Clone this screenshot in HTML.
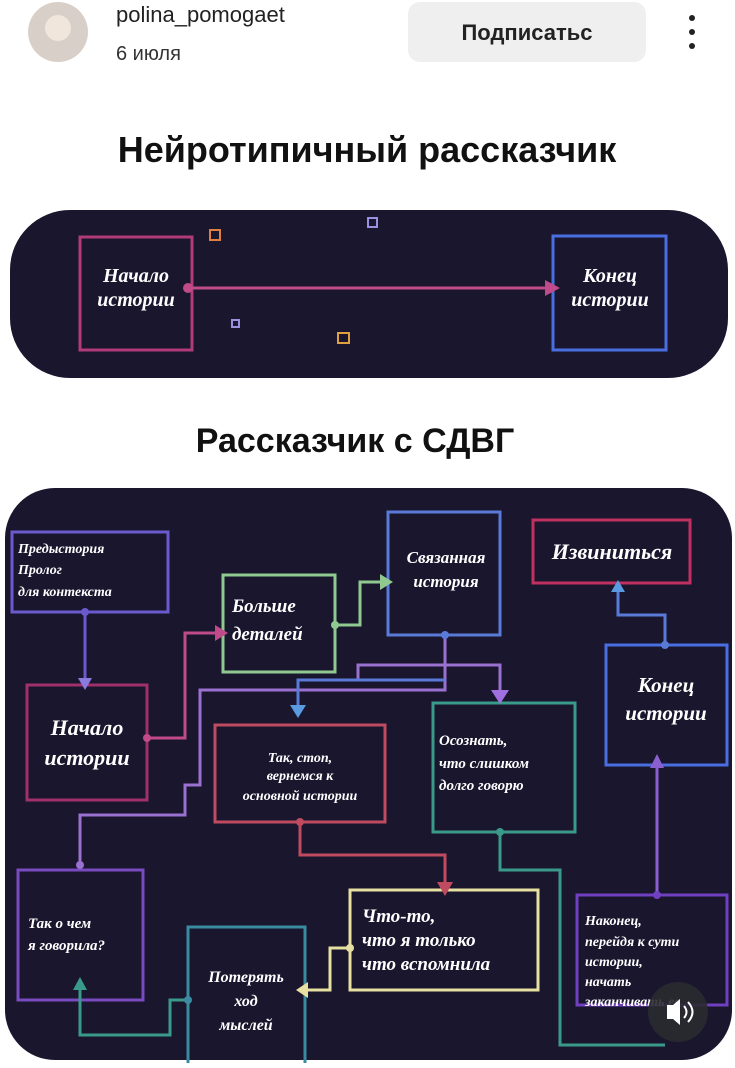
<!DOCTYPE html>
<html><head><meta charset="utf-8"><style>
body{margin:0;width:735px;height:1063px;background:#fff;overflow:hidden;font-family:"Liberation Sans","Noto Sans CJK SC",sans-serif}
</style></head><body>
<svg width="735" height="1063" viewBox="0 0 735 1063" xmlns="http://www.w3.org/2000/svg" font-family="Liberation Sans, Noto Sans CJK SC, sans-serif">
<circle cx="58" cy="32" r="30" fill="#d8d0c8"/>
<circle cx="58" cy="28" r="13" fill="#f0e6dc"/>
<text x="116" y="22" font-size="22" fill="#222">polina_pomogaet</text>
<text x="116" y="60" font-size="20" fill="#333">6 июля</text>
<rect x="408" y="2" width="238" height="60" rx="12" fill="#efefef"/>
<text x="527" y="40" font-size="22" font-weight="bold" fill="#222" text-anchor="middle">Подписатьс</text>
<circle cx="692" cy="18" r="3" fill="#222"/><circle cx="692" cy="32" r="3" fill="#222"/><circle cx="692" cy="46" r="3" fill="#222"/>
<text x="367" y="162" font-size="36" font-weight="bold" fill="#111" text-anchor="middle">Нейротипичный рассказчик</text>
<text x="355" y="452" font-size="34" font-weight="bold" fill="#111" text-anchor="middle">Рассказчик с СДВГ</text>

<rect x="10" y="210" width="718" height="168" rx="60" fill="#19162e"/>
<g fill="none" stroke-width="3">
<rect x="80" y="237" width="112" height="113" stroke="#b03a7a"/>
<rect x="553" y="236" width="113" height="114" stroke="#4a6ee0"/>
<line x1="188" y1="288" x2="548" y2="288" stroke="#c04a8a"/>
<rect x="210" y="230" width="10" height="10" stroke="#e08040" stroke-width="2"/>
<rect x="338" y="333" width="11" height="10" stroke="#e0a040" stroke-width="2"/>
<rect x="232" y="320" width="7" height="7" stroke="#9a90e0" stroke-width="2"/>
<rect x="368" y="218" width="9" height="9" stroke="#9a90e0" stroke-width="2"/>
</g>
<polygon points="545,280 560,288 545,296" fill="#c04a8a"/>
<circle cx="188" cy="288" r="5" fill="#c04a8a"/>
<g font-family="Liberation Serif, serif" font-style="italic" font-weight="bold" fill="#fff">
<text x="136" y="282" font-size="20" text-anchor="middle">Начало</text>
<text x="136" y="306" font-size="20" text-anchor="middle">истории</text>
<text x="610" y="282" font-size="20" text-anchor="middle">Конец</text>
<text x="610" y="306" font-size="20" text-anchor="middle">истории</text>
</g>

<rect x="5" y="488" width="727" height="572" rx="50" fill="#19162e"/>
<g fill="none" stroke-width="3">
<rect x="12" y="532" width="156" height="80" stroke="#6a5acd"/>
<rect x="27" y="685" width="120" height="115" stroke="#a0306a"/>
<rect x="223" y="575" width="112" height="97" stroke="#8fc98f"/>
<rect x="388" y="512" width="112" height="123" stroke="#5a7ad8"/>
<rect x="533" y="520" width="157" height="63" stroke="#c03060"/>
<rect x="606" y="645" width="121" height="120" stroke="#4a6ee0"/>
<rect x="215" y="725" width="170" height="97" stroke="#c04a60"/>
<rect x="433" y="703" width="142" height="129" stroke="#3a9a8a"/>
<rect x="18" y="870" width="125" height="130" stroke="#7a4ac0"/>
<rect x="188" y="927" width="117" height="140" stroke="#3a8aa0"/>
<rect x="350" y="890" width="188" height="100" stroke="#e8e0a0"/>
<rect x="577" y="895" width="150" height="110" stroke="#7040c0"/>
<polyline points="85,612 85,680" stroke="#6a5acd"/>
<polyline points="147,738 185,738 185,633 218,633" stroke="#c04a8a"/>
<polyline points="335,625 360,625 360,582 383,582" stroke="#8fc98f"/>
<polyline points="445,635 445,690 200,690 200,785 185,785 185,815 80,815 80,865" stroke="#9a70d0"/>
<polyline points="358,680 358,665 500,665 500,695" stroke="#9a70d0"/>
<polyline points="298,705 298,680 445,680" stroke="#5a7ad8"/>
<polyline points="665,645 665,615 618,615 618,590" stroke="#5a7ad8"/>
<polyline points="300,822 300,855 445,855 445,885" stroke="#c04a60"/>
<polyline points="500,832 500,870 560,870 560,1045 665,1045" stroke="#3a9a8a"/>
<polyline points="657,895 657,760" stroke="#8a60d0"/>
<polyline points="350,948 330,948 330,990 305,990" stroke="#e8e0a0"/>
<polyline points="188,1000 170,1000 170,1035 80,1035 80,985" stroke="#3a9a8a"/>
</g>
<g>
<polygon points="78,678 92,678 85,690" fill="#8a7ae0"/>
<polygon points="215,625 228,633 215,641" fill="#c04a8a"/>
<polygon points="380,574 393,582 380,590" fill="#8fc98f"/>
<polygon points="491,690 509,690 500,704" fill="#a070e0"/>
<polygon points="290,705 306,705 298,718" fill="#5a9ae0"/>
<polygon points="611,592 625,592 618,580" fill="#5a9ae0"/>
<polygon points="437,882 453,882 445,896" fill="#c04a60"/>
<polygon points="650,768 664,768 657,754" fill="#8a60d0"/>
<polygon points="308,982 308,998 296,990" fill="#e8e0a0"/>
<polygon points="73,990 87,990 80,977" fill="#3a9a8a"/>
<circle cx="85" cy="612" r="4" fill="#6a5acd"/><circle cx="147" cy="738" r="4" fill="#c04a8a"/>
<circle cx="335" cy="625" r="4" fill="#8fc98f"/><circle cx="445" cy="635" r="4" fill="#5a7ad8"/>
<circle cx="665" cy="645" r="4" fill="#5a7ad8"/><circle cx="300" cy="822" r="4" fill="#c04a60"/>
<circle cx="500" cy="832" r="4" fill="#3a9a8a"/><circle cx="657" cy="895" r="4" fill="#7040c0"/>
<circle cx="350" cy="948" r="4" fill="#e8e0a0"/><circle cx="188" cy="1000" r="4" fill="#3a8aa0"/>
<circle cx="80" cy="865" r="4" fill="#9a70d0"/>
</g>
<g font-family="Liberation Serif, serif" font-style="italic" font-weight="bold" fill="#fff">
<text x="18" y="553" font-size="14">Предыстория</text>
<text x="18" y="574" font-size="14">Пролог</text>
<text x="18" y="596" font-size="14">для контекста</text>
<text x="232" y="612" font-size="19">Больше</text>
<text x="232" y="640" font-size="19">деталей</text>
<text x="446" y="563" font-size="17" text-anchor="middle">Связанная</text>
<text x="446" y="587" font-size="17" text-anchor="middle">история</text>
<text x="612" y="559" font-size="22" text-anchor="middle">Извиниться</text>
<text x="666" y="692" font-size="21" text-anchor="middle">Конец</text>
<text x="666" y="720" font-size="21" text-anchor="middle">истории</text>
<text x="87" y="735" font-size="22" text-anchor="middle">Начало</text>
<text x="87" y="765" font-size="22" text-anchor="middle">истории</text>
<text x="300" y="762" font-size="14" text-anchor="middle">Так, стоп,</text>
<text x="300" y="780" font-size="14" text-anchor="middle">вернемся к</text>
<text x="300" y="800" font-size="14" text-anchor="middle">основной истории</text>
<text x="439" y="745" font-size="15">Осознать,</text>
<text x="439" y="768" font-size="15">что слишком</text>
<text x="439" y="790" font-size="15">долго говорю</text>
<text x="28" y="928" font-size="15">Так о чем</text>
<text x="28" y="950" font-size="15">я говорила?</text>
<text x="362" y="922" font-size="19">Что-то,</text>
<text x="362" y="946" font-size="19">что я только</text>
<text x="362" y="970" font-size="19">что вспомнила</text>
<text x="246" y="982" font-size="16" text-anchor="middle">Потерять</text>
<text x="246" y="1006" font-size="16" text-anchor="middle">ход</text>
<text x="246" y="1030" font-size="16" text-anchor="middle">мыслей</text>
<text x="585" y="925" font-size="14">Наконец,</text>
<text x="585" y="946" font-size="14">перейдя к сути</text>
<text x="585" y="966" font-size="14">истории,</text>
<text x="585" y="986" font-size="14">начать</text>
<text x="585" y="1006" font-size="14">заканчивать ее</text>
</g>
<circle cx="678" cy="1012" r="30" fill="#2a2a30" opacity="0.9"/>
<polygon points="667,1005 673,1005 680,999 680,1025 673,1019 667,1019" fill="#fff"/>
<path d="M684 1006 q5 6 0 12 M688 1002 q9 10 0 20" stroke="#fff" stroke-width="2" fill="none"/>
</svg>
</body></html>
